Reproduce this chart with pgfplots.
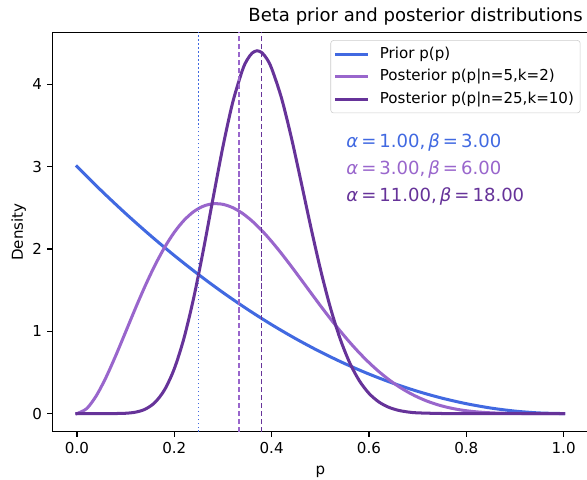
\documentclass[border=0pt]{standalone}
\usepackage{fontspec}
\setmainfont{DejaVu Sans}
\usepackage{pgfplots}
\pgfplotsset{compat=1.18}
\definecolor{cPrior}{RGB}{65,105,225}
\definecolor{cPostA}{RGB}{153,102,204}
\definecolor{cPostB}{RGB}{102,51,153}
\definecolor{cFrame}{RGB}{204,204,204}

\begin{document}
\fontsize{10.85}{13}\selectfont
\begin{tikzpicture}
\begin{axis}[
  at={(0,0)}, anchor=south west,
  scale only axis, width=385.4pt, height=287.3pt,
  xmin=-0.05, xmax=1.05, ymin=-0.2203, ymax=4.627,
  xtick={0,0.2,0.4,0.6,0.8,1.0},
  ytick={0,1,2,3,4},
  xticklabel style={/pgf/number format/.cd, fixed, fixed zerofill, precision=1},
  /pgf/number format/assume math mode=true,
  tick label style={font=\fontsize{10.85}{13}\selectfont},
  label style={font=\fontsize{10.85}{13}\selectfont},
  tick align=outside, tick pos=left,
  major tick length=3.8pt,
  every tick/.style={black, line width=0.87pt},
  axis line style={black, line width=0.87pt},
  xlabel={p}, ylabel={Density},
  xlabel style={at={(rel axis cs:0.5,-0.1)}, anchor=center},
  ylabel style={at={(rel axis cs:-0.0633,0.5)}, anchor=center},
  title={Beta prior and posterior distributions},
  title style={at={(1,1)}, anchor=base east, yshift=1.7pt,
               font=\fontsize{13}{15}\selectfont},
  legend style={at={(1,1)}, anchor=north east, xshift=-5.4pt, yshift=-5.4pt,
                draw=cFrame, rounded corners=2pt, fill=white,
                fill opacity=0.8, text opacity=1,
                font=\fontsize{10.85}{13}\selectfont,
                inner xsep=3pt, inner ysep=4.5pt,
                nodes={inner xsep=1.5pt, inner ysep=0pt,
                       text height=8.2pt, text depth=2.6pt},
                row sep=5.4pt,
                /tikz/every odd column/.style={column sep=7pt}},
  legend cell align=left,
  legend image code/.code={\draw[#1] (0pt,0pt) -- (21.7pt,0pt);},
  every axis plot/.append style={line cap=rect},
]
% prior Beta(1,3)
\addplot[cPrior, line width=2.17pt, smooth] coordinates {
  (0,3) (0.05,2.7075) (0.1,2.43) (0.15,2.1675) (0.2,1.92) (0.25,1.6875)
  (0.3,1.47) (0.35,1.2675) (0.4,1.08) (0.45,0.9075) (0.5,0.75)
  (0.55,0.6075) (0.6,0.48) (0.65,0.3675) (0.7,0.27) (0.75,0.1875)
  (0.8,0.12) (0.85,0.0675) (0.9,0.03) (0.95,0.0075) (1,0)};
% posterior Beta(3,6)
\addplot[cPostA, line width=2.17pt, smooth] coordinates {
  (0,0) (0.02,0.0607) (0.04,0.2192) (0.06,0.4439) (0.08,0.7086)
  (0.10,0.9920) (0.12,1.2767) (0.14,1.5490) (0.16,1.7987) (0.18,2.0180)
  (0.20,2.2020) (0.22,2.3476) (0.24,2.4536) (0.26,2.5201) (0.28,2.5485)
  (0.30,2.5412) (0.32,2.5012) (0.34,2.4321) (0.36,2.3378) (0.38,2.2225)
  (0.40,2.0902) (0.42,1.9451) (0.44,1.7912) (0.46,1.6323) (0.48,1.4717)
  (0.50,1.3125) (0.52,1.1575) (0.54,1.0090) (0.56,0.8689) (0.58,0.7386)
  (0.60,0.6193) (0.62,0.5117) (0.64,0.4161) (0.66,0.3325) (0.68,0.2607)
  (0.70,0.2000) (0.72,0.1499) (0.74,0.1093) (0.76,0.0773) (0.78,0.0527)
  (0.80,0.0344) (0.82,0.0214) (0.84,0.0124) (0.86,0.0067) (0.88,0.0032)
  (0.90,0.0014) (0.95,0.0001) (1,0)};
% posterior Beta(11,18)
\addplot[cPostB, line width=2.17pt, smooth] coordinates {
  (0,0) (0.05,0) (0.08,0.0006) (0.10,0.0039) (0.12,0.0167) (0.14,0.0526)
  (0.16,0.1340) (0.18,0.2890) (0.20,0.5447) (0.22,0.9186) (0.24,1.4101)
  (0.26,1.9951) (0.28,2.6275) (0.30,3.2447) (0.32,3.7796) (0.34,4.1718)
  (0.35,4.3003) (0.36,4.3791) (0.37,4.4067) (0.38,4.3832) (0.39,4.3107)
  (0.40,4.1924) (0.42,3.8377) (0.44,3.3653) (0.46,2.8286) (0.48,2.2792)
  (0.50,1.7600) (0.52,1.3015) (0.54,0.9207) (0.56,0.6221) (0.58,0.4007)
  (0.60,0.2454) (0.62,0.1424) (0.64,0.0780) (0.66,0.0402) (0.68,0.0193)
  (0.70,0.0086) (0.75,0.0008) (0.80,0) (0.90,0) (1,0)};
% means
\addplot[color=cPrior, line width=1.085pt, line cap=butt,
  dash pattern=on 1.085pt off 1.79pt, forget plot]
  coordinates {(0.25,-1) (0.25,6)};
\addplot[color=cPostA, line width=1.085pt, line cap=butt,
  dash pattern=on 4pt off 1.74pt, forget plot]
  coordinates {(0.33333,-1) (0.33333,6)};
\addplot[color=cPostB, line width=1.085pt, line cap=butt,
  dash pattern=on 4pt off 1.74pt, forget plot]
  coordinates {(0.37931,-1) (0.37931,6)};
\legend{Prior p(p), {Posterior p(p|n=5,k=2)}, {Posterior p(p|n=25,k=10)}}
\node[anchor=base west, inner sep=0pt, text=cPrior, font=\fontsize{13}{15}\selectfont]
  at (axis cs:0.553,3.23) {{\itshape α}\,=\,1.00,\,{\itshape β}\,=\,3.00};
\node[anchor=base west, inner sep=0pt, text=cPostA, font=\fontsize{13}{15}\selectfont]
  at (axis cs:0.553,2.906) {{\itshape α}\,=\,3.00,\,{\itshape β}\,=\,6.00};
\node[anchor=base west, inner sep=0pt, text=cPostB, font=\fontsize{13}{15}\selectfont]
  at (axis cs:0.553,2.58) {{\itshape α}\,=\,11.00,\,{\itshape β}\,=\,18.00};
\end{axis}
\pgfresetboundingbox
\useasboundingbox (-37.9pt,-34.1pt) rectangle (384.7pt,310.8pt);
\end{tikzpicture}
\end{document}
